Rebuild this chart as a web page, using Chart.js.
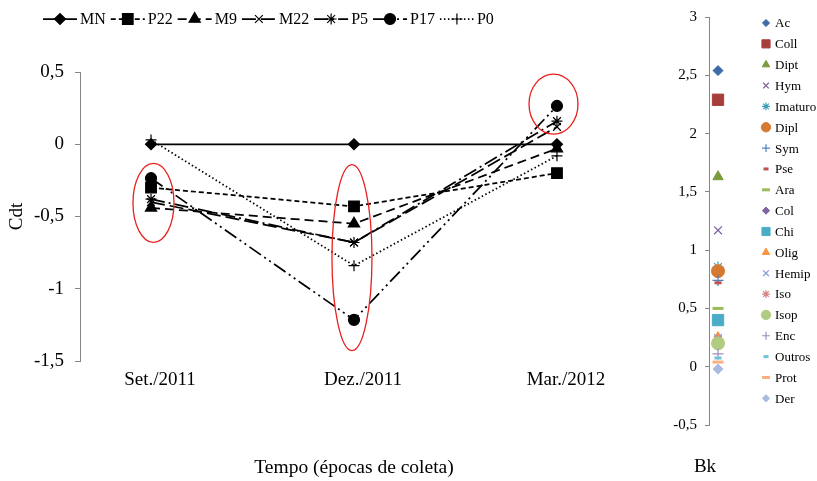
<!DOCTYPE html>
<html>
<head>
<meta charset="utf-8">
<script src="https://cdn.jsdelivr.net/npm/chart.js@4.4.0/dist/chart.umd.min.js"></script>
<style>
  body { margin: 0; background: #fff; }
  #wrap { position: relative; width: 817px; height: 481px; }
  #cdt { position: absolute; left: 0; top: 0; }
  #bk { position: absolute; left: 660px; top: 0; }
</style>
</head>
<body>
<div id="wrap">
  <canvas id="cdt" width="660" height="481"></canvas>
  <canvas id="bk" width="157" height="481"></canvas>
</div>
<script>
// epocas de coleta e valores de Cdt por area
var epocas = ['Set./2011', 'Dez./2011', 'Mar./2012'];
var MN  = [0, 0, 0];
var P22 = [-0.30, -0.43, -0.20];
var M9  = [-0.44, -0.55, -0.03];
var M22 = [-0.40, -0.68, 0.12];
var P5  = [-0.38, -0.68, 0.16];
var P17 = [-0.235, -1.215, 0.265];
var P0  = [0.03, -0.84, -0.08];
var ticksCdt = [0.5, 0, -0.5, -1, -1.5];

// grupos da fauna e seus valores de Bk
var grupos = ['Ac', 'Coll', 'Dipt', 'Hym', 'Imaturo', 'Dipl', 'Sym', 'Pse', 'Ara', 'Col',
              'Chi', 'Olig', 'Hemip', 'Iso', 'Isop', 'Enc', 'Outros', 'Prot', 'Der'];
var valoresBk = [2.54, 2.29, 1.63, 1.17, 0.855, 0.82, 0.74, 0.72, 0.50, 0.20,
                 0.40, 0.25, 0.245, 0.23, 0.20, 0.11, 0.075, 0.04, -0.02];
var ticksBk = [3, 2.5, 2, 1.5, 1, 0.5, 0, -0.5];

var serif = "'Liberation Serif', 'Times New Roman', serif";
var cinza = '#868686';

function virgula(v) { return String(v).replace('.', ','); }
function pontos(vals) { return vals.map(function (v, i) { return {x: i, y: v}; }); }

var seriesCdt = {MN: MN, P22: P22, M9: M9, M22: M22, P5: P5, P17: P17, P0: P0};
var estiloCdt = {
  MN:  {dash: [],                  forma: 'rectRot',  raio: 5.5},
  P22: {dash: [5, 3],              forma: 'rect',     raio: 7.5},
  M9:  {dash: [9, 5],              forma: 'triangle', raio: 6.5},
  M22: {dash: [14, 5],             forma: 'crossRot', raio: 5.5},
  P5:  {dash: [14, 4, 2, 4],       forma: 'star',     raio: 5.5},
  P17: {dash: [14, 4, 2, 4, 2, 4], forma: 'circle',   raio: 5.5},
  P0:  {dash: [1.5, 2.5],          forma: 'cross',    raio: 5.5}
};

// legenda no topo: trecho de linha + marcador + nome
var legendaLinhas = {
  id: 'legendaLinhas',
  afterDraw: function (chart) {
    var ctx = chart.ctx, x = 43, y = 19;
    ctx.save();
    ctx.font = '16px ' + serif;
    ctx.textBaseline = 'middle';
    chart.data.datasets.forEach(function (ds) {
      ctx.strokeStyle = '#000';
      ctx.fillStyle = '#000';
      ctx.lineWidth = ds.borderWidth;
      ctx.setLineDash(ds.borderDash);
      ctx.beginPath();
      ctx.moveTo(x, y);
      ctx.lineTo(x + 34, y);
      ctx.stroke();
      ctx.setLineDash([]);
      ctx.lineWidth = 1.2;
      Chart.helpers.drawPoint(ctx, {pointStyle: ds.pointStyle, radius: ds.pointRadius, borderWidth: 1.2}, x + 17, y);
      ctx.fillText(ds.label, x + 37, y + 1);
      x += 37 + ctx.measureText(ds.label).width + 5;
    });
    ctx.restore();
  }
};

// elipses vermelhas destacando os pontos de cada epoca
var destaques = {
  id: 'destaques',
  afterDatasetsDraw: function (chart, args, opts) {
    var ctx = chart.ctx, sx = chart.scales.x, sy = chart.scales.y;
    ctx.save();
    ctx.strokeStyle = '#e8201e';
    ctx.lineWidth = 1.3;
    opts.elipses.forEach(function (e) {
      ctx.beginPath();
      ctx.ellipse(sx.getPixelForValue(e.x), sy.getPixelForValue(e.y), e.rx, e.ry, 0, 0, Math.PI * 2);
      ctx.stroke();
    });
    ctx.restore();
  }
};

new Chart(document.getElementById('cdt'), {
  type: 'line',
  data: {
    datasets: Object.keys(seriesCdt).map(function (nome, i) {
      var e = estiloCdt[nome];
      return {
        label: nome,
        data: pontos(seriesCdt[nome]),
        borderColor: '#000',
        backgroundColor: '#000',
        borderWidth: 1.75,
        borderDash: e.dash,
        pointStyle: e.forma,
        pointRadius: e.raio,
        pointBorderWidth: 1.2,
        pointBackgroundColor: '#000',
        pointBorderColor: '#000',
        tension: 0,
        order: -i
      };
    })
  },
  options: {
    responsive: false,
    animation: false,
    layout: {padding: {top: 72, right: 32, left: 0, bottom: 0}},
    plugins: {
      legend: {display: false},
      tooltip: {enabled: false},
      destaques: {
        elipses: [
          {x: 0.012, y: -0.406, rx: 20.5, ry: 39.5},
          {x: 0.99, y: -0.785, rx: 20, ry: 93},
          {x: 1.983, y: 0.278, rx: 24.5, ry: 30}
        ]
      }
    },
    scales: {
      x: {
        type: 'linear',
        min: -0.35,
        max: 2.35,
        grid: {display: false},
        border: {display: false},
        afterBuildTicks: function (s) { s.ticks = epocas.map(function (e, i) { return {value: i}; }); },
        afterFit: function (s) { s.height = 120; },
        ticks: {
          callback: function (v) { return epocas[v]; },
          padding: 0,
          labelOffset: 9,
          maxRotation: 0,
          autoSkip: false,
          color: '#000',
          font: {family: serif, size: 19}
        },
        title: {display: true, text: 'Tempo (épocas de coleta)', color: '#000',
                font: {family: serif, size: 19.5}, padding: {top: 0, bottom: 1}}
      },
      y: {
        min: -1.5,
        max: 0.5,
        afterBuildTicks: function (s) { s.ticks = ticksCdt.map(function (v) { return {value: v}; }); },
        afterFit: function (s) { s.width = 80; },
        grid: {drawOnChartArea: false, tickLength: 5, color: cinza},
        border: {color: cinza},
        ticks: {callback: virgula, padding: 11, color: '#000', font: {family: serif, size: 19}},
        title: {display: true, text: 'Cdt', color: '#000', font: {family: serif, size: 19}, padding: {top: 6}}
      }
    }
  },
  plugins: [legendaLinhas, destaques]
});

// Bk: um ponto por grupo, com a legenda ao lado
var cores = ['#3D6BA8', '#A63F3C', '#7A9A3E', '#7B5E9B', '#3C9DB5', '#D67A32', '#4F81BD', '#C0504D', '#9BBB59', '#8064A2',
             '#4BACC6', '#F79646', '#7C9ED4', '#D68785', '#B0CC80', '#A08CC0', '#6FC3D9', '#F9B07E', '#A9BCE0'];
var formas = ['rectRot', 'rect', 'triangle', 'crossRot', 'star', 'circle', 'cross', 'line', 'line'];
var raios  = [5, 8, 6, 5.5, 5.5, 6.5, 5.5, 3.5, 5.5];
var bordas = [1, 1, 1, 1.2, 1.2, 1, 1.2, 3, 3];

var legendaBk = {
  id: 'legendaBk',
  afterDraw: function (chart) {
    var ctx = chart.ctx;
    ctx.save();
    ctx.font = '13px ' + serif;
    ctx.textBaseline = 'middle';
    chart.data.datasets.forEach(function (ds, i) {
      var y = 23 + i * 20.85;
      ctx.fillStyle = ds.pointBackgroundColor;
      ctx.strokeStyle = ds.pointBorderColor;
      ctx.lineWidth = ds.pointBorderWidth;
      Chart.helpers.drawPoint(ctx, {pointStyle: ds.pointStyle, radius: ds.pointRadius * 0.72, borderWidth: ds.pointBorderWidth}, 106, y);
      ctx.fillStyle = '#000';
      ctx.fillText(ds.label, 115, y + 1);
    });
    ctx.font = '19px ' + serif;
    ctx.textAlign = 'center';
    ctx.fillText('Bk', chart.chartArea.left - 4, 467);
    ctx.restore();
  }
};

new Chart(document.getElementById('bk'), {
  type: 'line',
  data: {
    datasets: grupos.map(function (g, i) {
      var k = i % 9;
      return {
        label: g,
        data: [{x: 0, y: valoresBk[i]}],
        showLine: false,
        pointStyle: formas[k],
        pointRadius: raios[k],
        pointBorderWidth: bordas[k],
        pointBackgroundColor: cores[i],
        pointBorderColor: cores[i],
        order: -i
      };
    })
  },
  options: {
    responsive: false,
    animation: false,
    layout: {padding: {top: 16, right: 67, left: 0, bottom: 56}},
    plugins: {legend: {display: false}, tooltip: {enabled: false}},
    scales: {
      x: {type: 'linear', display: false, min: -0.22, max: 0.78},
      y: {
        min: -0.5,
        max: 3,
        afterBuildTicks: function (s) { s.ticks = ticksBk.map(function (v) { return {value: v}; }); },
        afterFit: function (s) { s.width = 49; },
        grid: {drawOnChartArea: false, tickLength: 4, color: cinza},
        border: {color: cinza},
        ticks: {callback: virgula, padding: 8, color: '#000', font: {family: serif, size: 15}}
      }
    }
  },
  plugins: [legendaBk]
});
</script>
</body>
</html>
